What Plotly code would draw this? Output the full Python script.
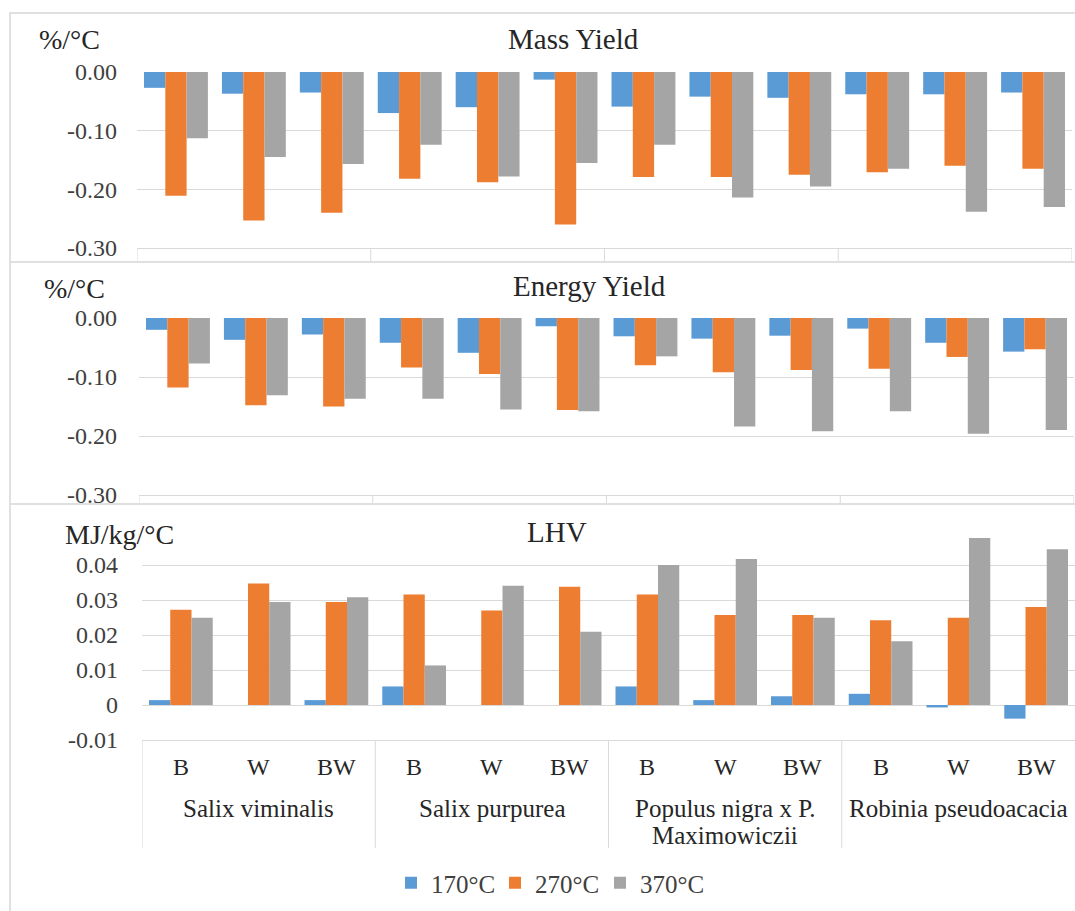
import plotly.graph_objects as go

# ---- data ----
varieties = ["B", "W", "BW"] * 4
species = ["Salix viminalis", "Salix purpurea", "Populus nigra x P.<br>Maximowiczii", "Robinia pseudoacacia"]
series_names = ["170°C", "270°C", "370°C"]

mass_170 = [-0.027, -0.037, -0.035, -0.070, -0.060, -0.013, -0.059, -0.042, -0.044, -0.038, -0.038, -0.035]
mass_270 = [-0.211, -0.253, -0.240, -0.182, -0.188, -0.260, -0.179, -0.179, -0.175, -0.171, -0.160, -0.165]
mass_370 = [-0.113, -0.145, -0.157, -0.124, -0.178, -0.155, -0.124, -0.214, -0.195, -0.165, -0.238, -0.230]

energy_170 = [-0.020, -0.037, -0.028, -0.042, -0.059, -0.014, -0.031, -0.035, -0.030, -0.018, -0.042, -0.057]
energy_270 = [-0.118, -0.148, -0.150, -0.084, -0.095, -0.156, -0.080, -0.092, -0.088, -0.086, -0.066, -0.053]
energy_370 = [-0.077, -0.131, -0.137, -0.137, -0.155, -0.158, -0.065, -0.184, -0.192, -0.158, -0.196, -0.190]

lhv_170 = [0.0014, 0.0, 0.0014, 0.0053, 0.0, 0.0, 0.0053, 0.0014, 0.0025, 0.0032, -0.0007, -0.0039]
lhv_270 = [0.0272, 0.0347, 0.0294, 0.0316, 0.0270, 0.0338, 0.0316, 0.0257, 0.0257, 0.0242, 0.0249, 0.0280]
lhv_370 = [0.0249, 0.0294, 0.0308, 0.0113, 0.0341, 0.0209, 0.0400, 0.0417, 0.0249, 0.0182, 0.0477, 0.0445]

yield_ticks = [0.0, -0.1, -0.2, -0.3]
yield_ticktext = ["0.00", "-0.10", "-0.20", "-0.30"]
lhv_ticks = [0.04, 0.03, 0.02, 0.01, 0.0, -0.01]
lhv_ticktext = ["0.04", "0.03", "0.02", "0.01", "0", "-0.01"]

colors = ["#5B9BD5", "#ED7D31", "#A5A5A5"]
W, H = 1075, 911
FONT = "Liberation Serif"
TXT = "#404040"
DARK = "#262626"
GRID = "#D9D9D9"

x_idx = list(range(len(varieties)))

panels = [
    ("x", "y", [mass_170, mass_270, mass_370]),
    ("x2", "y2", [energy_170, energy_270, energy_370]),
    ("x3", "y3", [lhv_170, lhv_270, lhv_370]),
]
legend_ids = ["legend", "legend2", "legend3"]

fig = go.Figure()
for p, (xa, ya, vals) in enumerate(panels):
    for s, v in enumerate(vals):
        fig.add_trace(go.Bar(
            x=x_idx, y=v, xaxis=xa, yaxis=ya, name=series_names[s],
            marker=dict(color=colors[s], line=dict(width=0)),
            legendgroup=series_names[s], showlegend=(p == 2),
            legend=legend_ids[s], offsetgroup=str(s),
        ))

def py(px):
    return 1 - px / H

def pxx(px):
    return px / W

xdoms = [[pxx(137), pxx(1072)], [pxx(139), pxx(1074)], [pxx(142), 1.0]]
ydoms = [[py(248), py(72)], [py(495), py(318)], [py(740), py(530)]]
standoffs = [19, 21, 23]

tickfont = dict(size=24, family=FONT, color=TXT)
layout_axes = {}
for i, name in enumerate(["", "2", "3"]):
    layout_axes["xaxis" + name] = dict(
        anchor="y" + name, domain=xdoms[i], range=[-0.5, 11.5], showticklabels=False,
        showgrid=False, zeroline=False, showline=True, linecolor=GRID, linewidth=1, ticks="")
yaxis_common = dict(showgrid=True, gridcolor=GRID, gridwidth=1, zeroline=False,
                    automargin=False, tickfont=tickfont, ticks="")
layout_axes["yaxis"] = dict(domain=ydoms[0], range=[-0.3, 0.0], tickvals=yield_ticks,
                            ticktext=yield_ticktext, ticklabelstandoff=standoffs[0],
                            anchor="x", **yaxis_common)
layout_axes["yaxis2"] = dict(domain=ydoms[1], range=[-0.3, 0.0], tickvals=yield_ticks,
                             ticktext=yield_ticktext, ticklabelstandoff=standoffs[1],
                             anchor="x2", **yaxis_common)
layout_axes["yaxis3"] = dict(domain=ydoms[2], range=[-0.01, 0.05], tickvals=lhv_ticks,
                             ticktext=lhv_ticktext, ticklabelstandoff=standoffs[2],
                             anchor="x3", **yaxis_common)

legend_font = dict(size=25, family=FONT, color=TXT)
legend_lefts = [391, 495, 600]
legends = {}
for lid, lx in zip(legend_ids, legend_lefts):
    legends[lid] = dict(orientation="h", x=pxx(lx), xanchor="left", y=py(883), yanchor="middle",
                        font=legend_font, itemwidth=30, bgcolor="rgba(0,0,0,0)", borderwidth=0)

fig.update_layout(
    width=W, height=H, margin=dict(l=0, r=0, t=0, b=0, autoexpand=False),
    paper_bgcolor="white", plot_bgcolor="white",
    barmode="group", bargap=0.18, bargroupgap=0,
    font=dict(family=FONT, color=TXT, size=20),
    **layout_axes, **legends,
)

shapes = []
# panel frames
for (y0, y1) in [(13, 262), (262, 504), (504, 913)]:
    shapes.append(dict(type="rect", xref="paper", yref="paper", x0=pxx(10), x1=1.01,
                       y0=py(y1), y1=py(y0), line=dict(color="#E0E0E0", width=2)))
# category box separators
for xa, (ytop, ybot), bounds in [("x", (248, 261), [-0.5, 2.5, 5.5, 8.5, 11.5]),
                                 ("x2", (495, 503), [-0.5, 2.5, 5.5, 8.5, 11.5]),
                                 ("x3", (740, 848), [-0.5, 2.5, 5.5, 8.5])]:
    for b in bounds:
        shapes.append(dict(type="line", xref=xa, yref="paper", x0=b, x1=b,
                           y0=py(ybot), y1=py(ytop), line=dict(color=GRID, width=1)))
fig.update_layout(shapes=shapes)

ann = []
# panel titles and units
for title, unit, ty, tx, uy, ux in [("Mass Yield", "%/°C", 39, 573, 39, 37),
                                    ("Energy Yield", "%/°C", 286, 589, 288, 42),
                                    ("LHV", "MJ/kg/°C", 532, 557, 534, 63)]:
    ann.append(dict(text=title, xref="paper", yref="paper", x=pxx(tx), y=py(ty),
                    showarrow=False, xanchor="center", yanchor="middle",
                    font=dict(size=29, family=FONT, color=DARK)))
    ann.append(dict(text=unit, xref="paper", yref="paper", x=pxx(ux), y=py(uy),
                    showarrow=False, xanchor="left", yanchor="middle",
                    font=dict(size=28, family=FONT, color=DARK)))
# category labels (first level)
for i, v in enumerate(varieties):
    ann.append(dict(text=v, xref="x3", yref="paper", x=i, y=py(767), showarrow=False,
                    xanchor="center", yanchor="middle", font=dict(size=24, family=FONT, color=DARK)))
# category labels (second level), wrapped lines placed one by one
for g, sp in enumerate(species):
    for k, line in enumerate(sp.split("<br>")):
        ann.append(dict(text=line, xref="x3", yref="paper", x=3 * g + 1, y=py(808 + 27 * k),
                        showarrow=False, xanchor="center", yanchor="middle",
                        font=dict(size=25, family=FONT, color=DARK)))
fig.update_layout(annotations=ann)

fig.write_html("out.html", config={"displayModeBar": False},
               post_script="document.body.style.margin='0';document.body.style.overflow='hidden';")
